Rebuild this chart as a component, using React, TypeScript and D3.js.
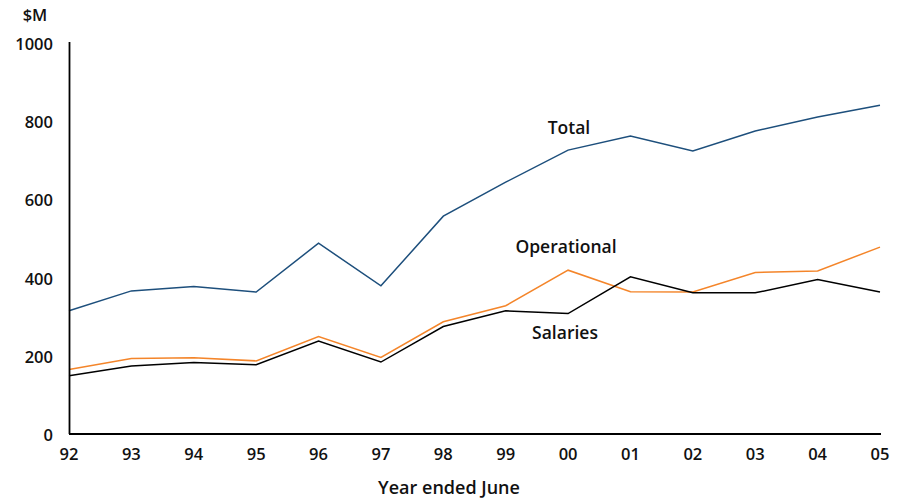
import React from "react";
import * as d3 from "d3";

const years = ["92", "93", "94", "95", "96", "97", "98", "99", "00", "01", "02", "03", "04", "05"];
const total = [315, 366, 377, 363, 488, 379, 557, 644, 726, 762, 724, 775, 811, 841];
const operational = [165, 193, 195, 187, 249, 196, 287, 328, 419, 364, 363, 413, 417, 478];
const salaries = [149, 174, 183, 177, 238, 184, 275, 315, 308, 402, 361, 361, 395, 363];
const yTicks = [0, 200, 400, 600, 800, 1000];

const W = 901, H = 499;
const FONT = "'Open Sans', sans-serif";

export default function App() {
  const x = d3.scalePoint<string>().domain(years).range([69, 880]);
  const y = d3.scaleLinear().domain([0, 1000]).range([434, 43]);
  const line = (vals: number[]) =>
    d3.line<number>().x((_, i) => x(years[i]) as number).y((d) => y(d))(vals) as string;

  const series = [
    { name: "Total", vals: total, color: "#1d4f7c", lx: 569, ly: 134 },
    { name: "Operational", vals: operational, color: "#f4852a", lx: 566, ly: 253 },
    { name: "Salaries", vals: salaries, color: "#000000", lx: 565, ly: 339 },
  ];

  return (
    <svg width={W} height={H} style={{ position: "absolute", left: 0, top: 0, background: "#fff" }}
      fontFamily={FONT} fontWeight={600}>
      <text x={35} y={21} fontSize={16.5} textAnchor="middle" fill="#111">$M</text>
      {yTicks.map((t) => (
        <text key={t} x={53} y={y(t) + 7} fontSize={16.5} textAnchor="end" fill="#111">{t}</text>
      ))}
      {years.map((yr) => (
        <text key={yr} x={x(yr) as number} y={460} fontSize={16.5} textAnchor="middle" fill="#111">{yr}</text>
      ))}
      <text x={449} y={494} fontSize={18} textAnchor="middle" fill="#111">Year ended June</text>
      {series.map((s) => (
        <path key={s.name} d={line(s.vals)} fill="none" stroke={s.color} strokeWidth={1.5} strokeLinejoin="miter" />
      ))}
      <line x1={69.5} x2={69.5} y1={42} y2={434} stroke="#000" strokeWidth={1.8} />
      <line x1={69} x2={881} y1={434} y2={434} stroke="#000" strokeWidth={1.8} />
      {series.map((s) => (
        <text key={s.name + "l"} x={s.lx} y={s.ly} fontSize={17.5} textAnchor="middle" fill="#111">{s.name}</text>
      ))}
    </svg>
  );
}
